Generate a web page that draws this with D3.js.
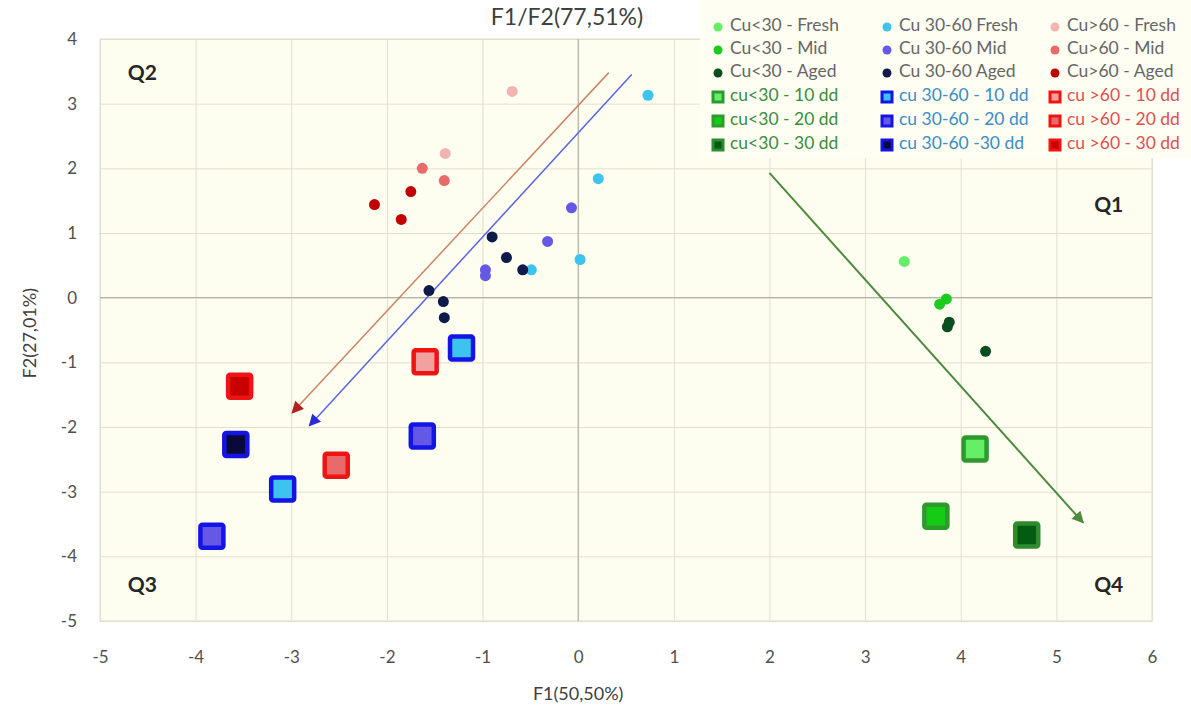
<!DOCTYPE html>
<html>
<head>
<meta charset="utf-8">
<script src="https://cdn.jsdelivr.net/npm/d3@7"></script>
<style>
  body { margin: 0; background: #fff; }
  svg { font-family: Lato, 'Open Sans', sans-serif; }
</style>
</head>
<body>
<div id="chart"></div>
<script>
// values: [F1, F2]
const cuLowFresh = [[3.41, 0.56]];
const cuLowMid = [[3.78, -0.10], [3.85, -0.02]];
const cuLowAged = [[3.86, -0.45], [3.88, -0.38], [4.26, -0.83]];
const cuMidFresh = [[0.73, 3.13], [0.21, 1.84], [0.02, 0.59], [-0.49, 0.43]];
const cuMidMid = [[-0.07, 1.39], [-0.32, 0.87], [-0.97, 0.43], [-0.97, 0.34]];
const cuMidAged = [[-0.90, 0.94], [-0.75, 0.62], [-0.58, 0.43], [-1.56, 0.11], [-1.41, -0.06], [-1.40, -0.31]];
const cuHighFresh = [[-0.69, 3.19], [-1.39, 2.23]];
const cuHighMid = [[-1.63, 2.00], [-1.40, 1.81]];
const cuHighAged = [[-1.75, 1.64], [-2.13, 1.44], [-1.85, 1.21]];

const cuLow10 = [[4.15, -2.34]];
const cuLow20 = [[3.74, -3.38]];
const cuLow30 = [[4.69, -3.67]];
const cuMid10 = [[-1.22, -0.78], [-3.09, -2.96]];
const cuMid20 = [[-1.63, -2.14], [-3.83, -3.69]];
const cuMid30 = [[-3.58, -2.27]];
const cuHigh10 = [[-1.60, -0.99]];
const cuHigh20 = [[-2.53, -2.59]];
const cuHigh30 = [[-3.54, -1.37]];

// trend arrows [from, to]
const arrowRed = [[0.32, 3.48], [-2.99, -1.78]];
const arrowBlue = [[0.56, 3.45], [-2.81, -1.98]];
const arrowGreen = [[2.00, 1.93], [5.28, -3.48]];

const xTicks = [-5, -4, -3, -2, -1, 0, 1, 2, 3, 4, 5, 6];
const yTicks = [-5, -4, -3, -2, -1, 0, 1, 2, 3, 4];

const legendLabels = [
  ['Cu<30 - Fresh', 'Cu 30-60 Fresh', 'Cu>60 - Fresh'],
  ['Cu<30 - Mid', 'Cu 30-60 Mid', 'Cu>60 - Mid'],
  ['Cu<30 - Aged', 'Cu 30-60 Aged', 'Cu>60 - Aged'],
  ['cu<30 - 10 dd', 'cu 30-60 - 10 dd', 'cu >60 - 10 dd'],
  ['cu<30 - 20 dd', 'cu 30-60 - 20 dd', 'cu >60 - 20 dd'],
  ['cu<30 - 30 dd', 'cu 30-60 -30 dd', 'cu >60 - 30 dd']
];

const quadLabels = ['Q2', 'Q1', 'Q3', 'Q4'];

// styles
const dotSeries = [
  {data: cuLowFresh, fill: '#66ee66'}, {data: cuMidFresh, fill: '#3cc3ee'}, {data: cuHighFresh, fill: '#f2b3b3'},
  {data: cuLowMid, fill: '#1ccc1c'}, {data: cuMidMid, fill: '#6658e6'}, {data: cuHighMid, fill: '#e86a6a'},
  {data: cuLowAged, fill: '#0b4d1f'}, {data: cuMidAged, fill: '#0e1a4a'}, {data: cuHighAged, fill: '#c00000'}
];
const squareSeries = [
  {data: cuLow10, fill: '#66ee66', stroke: '#2e9a2e'}, {data: cuMid10, fill: '#3cc3ee', stroke: '#1414e6'}, {data: cuHigh10, fill: '#f2a0a0', stroke: '#ee1414'},
  {data: cuLow20, fill: '#14cc14', stroke: '#2e9a2e'}, {data: cuMid20, fill: '#6658e6', stroke: '#1414e6'}, {data: cuHigh20, fill: '#e86a6a', stroke: '#ee1414'},
  {data: cuLow30, fill: '#035c12', stroke: '#2e8b2e'}, {data: cuMid30, fill: '#0a0a3a', stroke: '#1414e6'}, {data: cuHigh30, fill: '#c80000', stroke: '#ee1414'}
];
const legendTextColor = [
  ['#666666', '#666666', '#666666'],
  ['#666666', '#666666', '#666666'],
  ['#666666', '#666666', '#666666'],
  ['#3c8c3c', '#3a8cc8', '#e05050'],
  ['#3c8c3c', '#3a8cc8', '#e05050'],
  ['#3c8c3c', '#3a8cc8', '#e05050']
];

const width = 1191, height = 714;
const plot = {left: 100, right: 1152, top: 39, bottom: 621};

const svg = d3.select('#chart').append('svg')
  .attr('width', width)
  .attr('height', height);

const x = d3.scaleLinear().domain([-5, 6]).range([plot.left, plot.right]);
const y = d3.scaleLinear().domain([-5, 4]).range([plot.bottom, plot.top]);

svg.append('rect')
  .attr('x', plot.left).attr('y', plot.top)
  .attr('width', plot.right - plot.left).attr('height', plot.bottom - plot.top)
  .attr('fill', '#fefef0')
  .attr('stroke', '#dcdccc');

// grid
svg.append('g')
  .attr('transform', `translate(0,${plot.bottom})`)
  .call(d3.axisBottom(x).tickValues(xTicks).tickSize(-(plot.bottom - plot.top)).tickFormat(''))
  .call(g => g.select('.domain').remove())
  .call(g => g.selectAll('line').attr('stroke', '#e2dfcc'));
svg.append('g')
  .attr('transform', `translate(${plot.left},0)`)
  .call(d3.axisLeft(y).tickValues(yTicks).tickSize(-(plot.right - plot.left)).tickFormat(''))
  .call(g => g.select('.domain').remove())
  .call(g => g.selectAll('line').attr('stroke', '#e2dfcc'));

// zero lines
svg.append('line')
  .attr('x1', x(0)).attr('x2', x(0)).attr('y1', plot.top).attr('y2', plot.bottom)
  .attr('stroke', '#a6a6a0');
svg.append('line')
  .attr('x1', plot.left).attr('x2', plot.right).attr('y1', y(0)).attr('y2', y(0))
  .attr('stroke', '#a6a6a0');

// tick labels (plain hyphen like the original)
svg.append('g')
  .attr('transform', `translate(0,${plot.bottom + 27})`)
  .call(d3.axisBottom(x).tickValues(xTicks).tickSize(0).tickFormat(d => String(d)))
  .call(g => g.select('.domain').remove())
  .call(g => g.selectAll('text').attr('fill', '#505050').style('font-size', '17px').style('font-family', 'Lato'));
svg.append('g')
  .attr('transform', `translate(${plot.left - 20},0)`)
  .call(d3.axisLeft(y).tickValues(yTicks).tickSize(0).tickFormat(d => String(d)))
  .call(g => g.select('.domain').remove())
  .call(g => g.selectAll('text').attr('fill', '#505050').style('font-size', '17px').style('font-family', 'Lato'));

// titles
svg.append('text')
  .attr('x', 567).attr('y', 25)
  .attr('text-anchor', 'middle')
  .attr('fill', '#404040')
  .style('font-size', '23px')
  .text('F1/F2(77,51%)');
svg.append('text')
  .attr('x', x(0)).attr('y', 700)
  .attr('text-anchor', 'middle')
  .attr('fill', '#404040')
  .style('font-size', '18px')
  .text('F1(50,50%)');
svg.append('text')
  .attr('transform', `translate(36,${y(-0.55)}) rotate(-90)`)
  .attr('text-anchor', 'middle')
  .attr('fill', '#404040')
  .style('font-size', '18px')
  .text('F2(27,01%)');

// quadrant labels
const quadPos = [[-4.71, 3.45, 'start'], [5.7, 1.41, 'end'], [-4.71, -4.47, 'start'], [5.7, -4.47, 'end']];
svg.append('g').selectAll('text')
  .data(quadLabels)
  .join('text')
  .attr('x', (d, i) => x(quadPos[i][0])).attr('y', (d, i) => y(quadPos[i][1]))
  .attr('text-anchor', (d, i) => quadPos[i][2])
  .attr('dominant-baseline', 'middle')
  .attr('fill', '#262626')
  .style('font-size', '21px')
  .style('font-weight', 'bold')
  .text(d => d);

// arrows
const defs = svg.append('defs');
const arrows = [
  {id: 'ah-red', d: arrowRed, line: '#c98462', head: '#b22020', w: 1.5},
  {id: 'ah-blue', d: arrowBlue, line: '#5a64e0', head: '#2a2ad8', w: 1.5},
  {id: 'ah-green', d: arrowGreen, line: '#4e8a3e', head: '#4e8a3e', w: 2}
];
arrows.forEach(a => {
  defs.append('marker')
    .attr('id', a.id)
    .attr('viewBox', '0 0 10 10')
    .attr('refX', 9).attr('refY', 5)
    .attr('markerWidth', 14).attr('markerHeight', 12)
    .attr('markerUnits', 'userSpaceOnUse')
    .attr('orient', 'auto')
    .append('path')
    .attr('d', 'M0,0L10,5L0,10z')
    .attr('fill', a.head);
  svg.append('line')
    .attr('x1', x(a.d[0][0])).attr('y1', y(a.d[0][1]))
    .attr('x2', x(a.d[1][0])).attr('y2', y(a.d[1][1]))
    .attr('stroke', a.line)
    .attr('stroke-width', a.w)
    .attr('marker-end', `url(#${a.id})`);
});

// points
dotSeries.forEach(s => {
  svg.append('g').selectAll('circle')
    .data(s.data)
    .join('circle')
    .attr('cx', d => x(d[0])).attr('cy', d => y(d[1]))
    .attr('r', 5.5)
    .attr('fill', s.fill);
});
const sq = 23;
squareSeries.forEach(s => {
  svg.append('g').selectAll('rect')
    .data(s.data)
    .join('rect')
    .attr('x', d => x(d[0]) - sq / 2).attr('y', d => y(d[1]) - sq / 2)
    .attr('width', sq).attr('height', sq)
    .attr('rx', 2)
    .attr('fill', s.fill)
    .attr('stroke', s.stroke)
    .attr('stroke-width', 4.5);
});

// legend
const legend = svg.append('g');
legend.append('rect')
  .attr('x', 700).attr('y', 0)
  .attr('width', 491).attr('height', 158)
  .attr('fill', '#fefef2');
const colX = [718, 887, 1055];
const rowY = [27, 50, 73, 97, 121, 145];
legendLabels.forEach((row, r) => {
  row.forEach((label, c) => {
    const idx = (r % 3) * 3 + c;
    if (r < 3) {
      legend.append('circle')
        .attr('cx', colX[c]).attr('cy', rowY[r])
        .attr('r', 4.5)
        .attr('fill', dotSeries[idx].fill);
    } else {
      const s = squareSeries[idx];
      legend.append('rect')
        .attr('x', colX[c] - 5).attr('y', rowY[r] - 5)
        .attr('width', 10).attr('height', 10)
        .attr('fill', s.fill)
        .attr('stroke', s.stroke)
        .attr('stroke-width', 3);
    }
    legend.append('text')
      .attr('x', colX[c] + 12).attr('y', rowY[r])
      .attr('dominant-baseline', 'middle')
      .attr('fill', legendTextColor[r][c])
      .style('font-size', '17.5px')
      .text(label);
  });
});
</script>
</body>
</html>
